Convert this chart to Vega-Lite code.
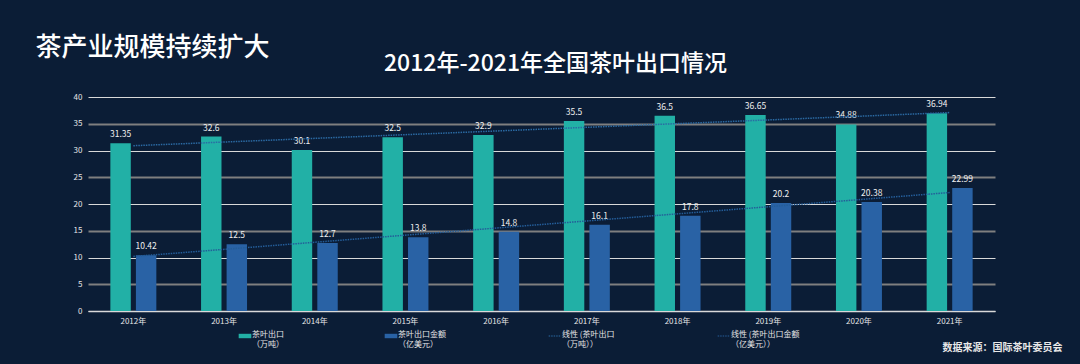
{
  "$schema": "https://vega.github.io/schema/vega-lite/v6.json",
  "autosize": {"type": "none"},
  "padding": {"left": 88, "top": 97, "right": 85, "bottom": 53},
  "width": 907,
  "height": 214,
  "background": "#0b1d36",
  "config": {
    "view": {"stroke": null},
    "font": "Noto Sans CJK SC",
    "legend": {"padding": 0}
  },
  "title": {
    "text": "2012年-2021年全国茶叶出口情况",
    "fontSize": 23,
    "fontWeight": 500,
    "color": "#ffffff",
    "anchor": "middle",
    "dx": 14,
    "baseline": "middle",
    "offset": -53
  },
  "data": {
    "values": [
      {"year": 2012, "series": "export", "value": 31.35},
      {"year": 2013, "series": "export", "value": 32.6},
      {"year": 2014, "series": "export", "value": 30.1},
      {"year": 2015, "series": "export", "value": 32.5},
      {"year": 2016, "series": "export", "value": 32.9},
      {"year": 2017, "series": "export", "value": 35.5},
      {"year": 2018, "series": "export", "value": 36.5},
      {"year": 2019, "series": "export", "value": 36.65},
      {"year": 2020, "series": "export", "value": 34.88},
      {"year": 2021, "series": "export", "value": 36.94},
      {"year": 2012, "series": "amount", "value": 10.42},
      {"year": 2013, "series": "amount", "value": 12.5},
      {"year": 2014, "series": "amount", "value": 12.7},
      {"year": 2015, "series": "amount", "value": 13.8},
      {"year": 2016, "series": "amount", "value": 14.8},
      {"year": 2017, "series": "amount", "value": 16.1},
      {"year": 2018, "series": "amount", "value": 17.8},
      {"year": 2019, "series": "amount", "value": 20.2},
      {"year": 2020, "series": "amount", "value": 20.38},
      {"year": 2021, "series": "amount", "value": 22.99}
    ]
  },
  "encoding": {
    "x": {
      "field": "year",
      "type": "ordinal",
      "scale": {"paddingInner": 0.493, "paddingOuter": 0.2465},
      "axis": {
        "labelExpr": "datum.label + '年'",
        "labelAngle": 0,
        "labelFontSize": 8,
        "labelColor": "#e6e6e6",
        "labelPadding": 6,
        "ticks": false,
        "domainColor": "#d9d9d9",
        "domainWidth": 1.5,
        "title": "数据来源：国际茶叶委员会",
        "titleX": 974,
        "titleY": 36,
        "titleAlign": "right",
        "titleBaseline": "middle",
        "titleFontSize": 10,
        "titleFontWeight": "bold",
        "titleColor": "#e8e8e8"
      }
    },
    "y": {
      "field": "value",
      "type": "quantitative",
      "scale": {"domain": [0, 40], "nice": false},
      "axis": {
        "values": [0, 5, 10, 15, 20, 25, 30, 35, 40],
        "domain": false,
        "ticks": false,
        "labelFontSize": 8,
        "labelColor": "#e6e6e6",
        "labelPadding": 6,
        "gridColor": {"condition": {"test": "datum.value % 10 === 0", "value": "#d9d9d9"}, "value": "#7f7f7f"},
        "gridWidth": {"condition": {"test": "datum.value % 10 === 0", "value": 1}, "value": 1.8},
        "gridOpacity": 1,
        "title": "茶产业规模持续扩大",
        "titleAngle": 0,
        "titleX": -53,
        "titleY": -50,
        "titleAlign": "left",
        "titleBaseline": "middle",
        "titleFontSize": 26,
        "titleFontWeight": 500,
        "titleColor": "#ffffff"
      }
    }
  },
  "layer": [
    {
      "mark": {"type": "bar"},
      "encoding": {
        "xOffset": {"field": "series", "type": "nominal", "sort": ["export", "amount"], "scale": {"paddingInner": 0.2, "paddingOuter": 0}},
        "color": {
          "field": "series",
          "type": "nominal",
          "scale": {
            "domain": ["export", "amount", "trend_export", "trend_amount"],
            "range": ["#22b0a6", "#2962a5", "#2b6aa3", "#245d99"]
          },
          "legend": {
            "orient": "none",
            "legendX": 153,
            "legendY": 235,
            "direction": "horizontal",
            "columns": 4,
            "columnPadding": 100,
            "title": null,
            "symbolSize": 160,
            "labelFontSize": 8,
            "labelColor": "#e6e6e6",
            "labelOffset": 3,
            "labelBaseline": "top",
            "labelExpr": "datum.value == 'export' ? ['茶叶出口', '（万吨）'] : datum.value == 'amount' ? ['茶叶出口金额', '（亿美元）'] : datum.value == 'trend_export' ? ['线性 (茶叶出口', '（万吨））'] : ['线性 (茶叶出口金额', '（亿美元））']",
            "encode": {
              "symbols": {
                "update": {
                  "shape": {"signal": "datum.index < 2 ? 'M-1,-0.35H1V0.35H-1Z' : 'M-1,0H1'"},
                  "fill": {"signal": "datum.index < 2 ? scale('color', datum.value) : 'transparent'"},
                  "stroke": {"signal": "scale('color', datum.value)"},
                  "strokeWidth": {"signal": "datum.index < 2 ? 0 : 1.2"},
                  "strokeDash": {"signal": "datum.index < 2 ? [] : [1.5, 1]"},
                  "opacity": {"value": 1}
                }
              },
              "labels": {
                "update": {"dy": {"value": -5}}
              }
            }
          }
        }
      }
    },
    {
      "mark": {"type": "text", "baseline": "middle", "dy": -9, "fontSize": 8.5, "color": "#f0f0f0"},
      "encoding": {
        "xOffset": {"field": "series", "type": "nominal", "sort": ["export", "amount"]},
        "text": {"field": "value", "type": "quantitative"}
      }
    },
    {
      "transform": [
        {"filter": "datum.series == 'export'"},
        {"regression": "value", "on": "year"}
      ],
      "mark": {"type": "line", "strokeDash": [1.5, 1], "strokeWidth": 1.5},
      "encoding": {
        "color": {"datum": "trend_export"}
      }
    },
    {
      "transform": [
        {"filter": "datum.series == 'amount'"},
        {"regression": "value", "on": "year"}
      ],
      "mark": {"type": "line", "strokeDash": [1.5, 1], "strokeWidth": 1.5},
      "encoding": {
        "color": {"datum": "trend_amount"}
      }
    }
  ]
}
